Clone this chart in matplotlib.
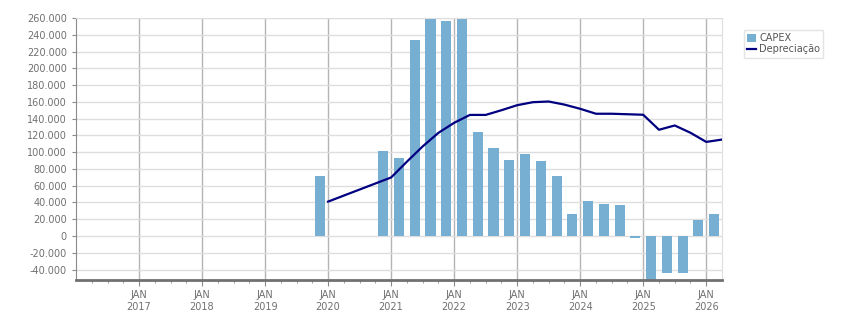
import numpy as np
import matplotlib.pyplot as plt
from matplotlib.ticker import FuncFormatter, FixedLocator

# CAPEX por trimestre (posição = meio do trimestre)
capex_x = [2019.875, 2020.875, 2021.125, 2021.375, 2021.625, 2021.875, 2022.125,
           2022.375, 2022.625, 2022.875, 2023.125, 2023.375, 2023.625, 2023.875,
           2024.125, 2024.375, 2024.625, 2024.875, 2025.125, 2025.375, 2025.625,
           2025.875, 2026.125]
capex = [71600, 101400, 93000, 233800, 270000, 256500, 265000,
         124100, 105000, 90700, 97800, 89500, 71600, 26200,
         41700, 38200, 37000, -2400, -60000, -44100, -44100,
         19100, 26200]

# Depreciação (fim de trimestre)
dep_x = [2020.0, 2021.0, 2021.25, 2021.5, 2021.75, 2022.0, 2022.25, 2022.5, 2022.75,
         2023.0, 2023.25, 2023.5, 2023.75, 2024.0, 2024.25, 2024.5, 2024.75,
         2025.0, 2025.25, 2025.5, 2025.75, 2026.0, 2026.25]
dep = [41000, 69800, 88600, 106800, 123000, 135000, 144400, 144400, 150000,
       156000, 159600, 160400, 156700, 151700, 145800, 145800, 145200,
       144600, 126700, 131800, 123100, 112200, 115000]

years = list(range(2017, 2027))
year_labels = [f'JAN\n{y}' for y in years]

fig = plt.figure(figsize=(8.51, 3.13), dpi=100)
ax = fig.add_axes([76/851, 1-280/313, (722-76)/851, (280-18)/313])

txt = '#707070'

bars = ax.bar(capex_x, capex, width=0.16, color='#77afd3', label='CAPEX', zorder=2)
line, = ax.plot(dep_x, dep, color='#000080', lw=1.6, label='Depreciação', zorder=3)

ax.set_xlim(2016.0, 2026.25)
ax.set_ylim(-52500, 260000)

ax.set_yticks(np.arange(-40000, 260001, 20000))
ax.yaxis.set_major_formatter(FuncFormatter(lambda v, p: f'{v:,.0f}'.replace(',', '.')))
ax.set_xticks(years)
ax.set_xticklabels(year_labels)
ax.xaxis.set_minor_locator(FixedLocator(np.arange(2016.25, 2026.25, 0.25)))

ax.grid(axis='y', color='#dedede', lw=1, zorder=0)
ax.grid(axis='x', which='major', color='#b4b4b4', lw=1, zorder=1)
ax.set_axisbelow(True)

for s in ['top', 'right']:
    ax.spines[s].set_color('#dedede')
ax.spines['left'].set_color('#8a8a8a')
ax.spines['bottom'].set_color('#707070')
ax.spines['bottom'].set_linewidth(2)

ax.tick_params(axis='y', labelsize=7, colors='#8a8a8a', labelcolor=txt, length=3)
ax.tick_params(axis='x', which='major', labelsize=7, colors='#8a8a8a', labelcolor=txt, length=4)
ax.tick_params(axis='x', which='minor', colors='#8a8a8a', length=2)

leg = fig.legend([bars, line], ['CAPEX', 'Depreciação'], loc='upper left',
                 bbox_to_anchor=(744/851, 1-30/313), fontsize=7,
                 frameon=True, fancybox=False, handlelength=0.9, handleheight=0.9,
                 handletextpad=0.3, borderpad=0.35, labelspacing=0.1, borderaxespad=0)
leg.get_frame().set_edgecolor('#dedede')
leg.get_frame().set_linewidth(1)
for t in leg.get_texts():
    t.set_color('#555555')

fig.savefig('out.png', dpi=100)
